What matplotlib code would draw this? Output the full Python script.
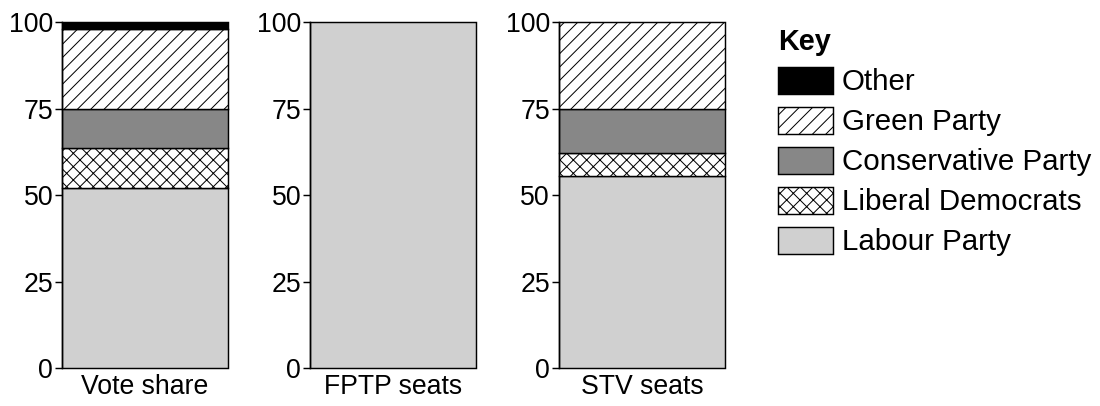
import matplotlib.pyplot as plt
from matplotlib.patches import Patch

plt.rcParams['font.family'] = ['Liberation Sans', 'DejaVu Sans']
plt.rcParams['hatch.linewidth'] = 0.9

# data (percent)
panels = ['Vote share', 'FPTP seats', 'STV seats']
parties = ['Labour Party', 'Liberal Democrats', 'Conservative Party', 'Green Party', 'Other']
labour = [52, 100, 55.6]
libdem = [11.5, 0, 6.6]
conservative = [11.5, 0, 12.8]
green = [23, 0, 25]
other = [2, 0, 0]

colors = ['#d0d0d0', 'white', '#878787', 'white', 'black']
hatches = ['', 'xx', '', '//', '']

fig = plt.figure(figsize=(13.75, 5.075), dpi=80)
lefts = [0.0564, 0.2818, 0.508]
series = [labour, libdem, conservative, green, other]

for i, name in enumerate(panels):
    ax = fig.add_axes([lefts[i], 0.0936, 0.151, 0.852])
    bottom = 0
    for s, c, h in zip(series, colors, hatches):
        if s[i] > 0:
            ax.bar(0, s[i], bottom=bottom, width=1, color=c, hatch=h,
                   edgecolor='black', linewidth=1.3, clip_on=False)
        bottom += s[i]
    ax.set_xlim(-0.5, 0.5)
    ax.set_ylim(0, 100)
    ax.set_yticks([0, 25, 50, 75, 100])
    ax.set_xticks([0])
    ax.set_xticklabels([name])
    ax.tick_params(axis='x', length=0, pad=5, labelsize=24)
    ax.tick_params(axis='y', length=6, width=1.3, pad=2, labelsize=24)
    for sp in ['top', 'right', 'bottom']:
        ax.spines[sp].set_visible(False)
    ax.spines['left'].set_linewidth(1.3)

handles = [Patch(facecolor=c, edgecolor='black', hatch=h, linewidth=1.3)
           for c, h in zip(colors, hatches)][::-1]
leg = fig.legend(handles, parties[::-1], loc='upper left',
                 bbox_to_anchor=(0.707, 0.93), frameon=False,
                 fontsize=26.5, title='Key', title_fontproperties={'weight': 'bold', 'size': 26},
                 alignment='left', handlelength=1.87, handleheight=1.05,
                 handletextpad=0.3, labelspacing=0.35, borderpad=0, borderaxespad=0)

fig.savefig('out.png', dpi=80)
